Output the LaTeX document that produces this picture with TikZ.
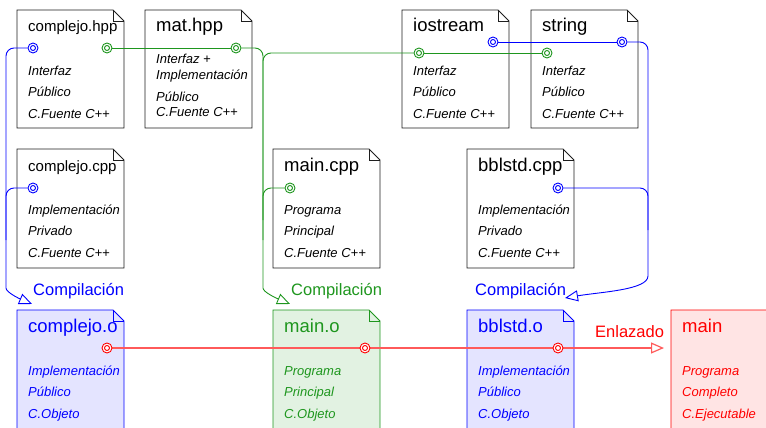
\documentclass[tikz,border=0pt]{standalone}
\usepackage{fontspec}
\setmainfont{Liberation Sans}
\usetikzlibrary{arrows.meta}
\definecolor{mygreen}{RGB}{30,150,30}
\definecolor{myblue}{RGB}{0,0,255}
\definecolor{myred}{RGB}{255,0,0}
\definecolor{redline}{RGB}{255,90,90}
\definecolor{bfill}{RGB}{228,228,255}
\definecolor{gfill}{RGB}{226,242,226}
\definecolor{rfill}{RGB}{255,228,228}
\definecolor{edge}{RGB}{30,30,30}
\pgfdeclarelayer{back}
\pgfdeclarelayer{mid}
\pgfsetlayers{back,mid,main}

\newcommand\docshape[5]{%
  \draw[#5] (#2,#3) coordinate (#1) -- (#2+96,#3) -- (#2+107,#3+11) -- (#2+107,#3+#4) -- (#2,#3+#4) -- cycle;
  \draw[#5,fill=none] (#2+96,#3) -- (#2+96,#3+11) -- (#2+107,#3+11);
}
\newcommand\doctext[9]{%
  \node[doctitle,text=#4,font={\fontsize{#5}{#5}\selectfont}] (#1-t) at (#2+11,#3+22) {#6};
  \node[docbody,text=#4] (#1-a) at (#2+11,#3+65) {#7};
  \node[docbody,text=#4] (#1-b) at (#2+11,#3+86) {#8};
  \node[docbody,text=#4] (#1-c) at (#2+11,#3+108) {#9};
}

\begin{document}
\begin{tikzpicture}[x=1pt,y=-1pt,
  doctitle/.style={anchor=base west,inner sep=0pt},
  docbody/.style={anchor=base west,inner sep=0pt,font={\fontsize{13}{15}\selectfont\itshape}},
  lab/.style={anchor=base west,inner sep=0pt,font={\fontsize{16.5}{18}\selectfont}},
  plainbox/.style={draw=edge,line width=0.9pt,fill=white},
  bluebox/.style={draw=myblue,line width=0.9pt,fill=bfill},
  greenbox/.style={draw=mygreen,line width=0.9pt,fill=gfill},
  redbox/.style={draw=myred,line width=0.9pt,fill=rfill},
  port/.style={circle,draw=#1,fill=white,minimum size=10pt,inner sep=0pt,line width=0.9pt,
    path picture={\draw[#1,line width=0.9pt] (path picture bounding box.center) circle (2.5pt);}},
  bline/.style={draw=myblue,line width=0.9pt,rounded corners=8pt},
  gline/.style={draw=mygreen,line width=0.9pt,rounded corners=8pt},
  rline/.style={draw=redline,line width=1.2pt},
  arr/.style={-{Triangle[open,length=13pt,width=11pt]}}
]
\useasboundingbox (0,0) rectangle (766,428);
\clip (0,0) rectangle (766,428);

\begin{pgfonlayer}{back}
% boxes
\docshape{bchpp}{17}{10}{118}{plainbox}
\docshape{bmat}{145}{10}{118}{plainbox}
\docshape{bio}{402}{10}{118}{plainbox}
\docshape{bstr}{531}{10}{118}{plainbox}
\docshape{bccp}{17}{149}{119}{plainbox}
\docshape{bmcp}{273}{149}{119}{plainbox}
\docshape{bbcp}{467}{149}{119}{plainbox}
\docshape{bco}{17}{310}{140}{bluebox}
\docshape{bmo}{273}{310}{140}{greenbox}
\docshape{bbo}{467}{310}{140}{bluebox}
\docshape{bmain}{671}{310}{140}{redbox}

% texts
\doctext{chpp}{17}{10}{black}{15}{complejo.hpp}{Interfaz}{Público}{C.Fuente C++}
\node[doctitle,font={\fontsize{18.5}{20}\selectfont}] (mat-t) at (156,32) {mat.hpp};
\node[docbody] (mat-a) at (156,64) {Interfaz +};
\node[docbody] (mat-b) at (156,80) {Implementación};
\node[docbody] (mat-c) at (156,102) {Público};
\node[docbody] (mat-d) at (156,117) {C.Fuente C++};
\doctext{io}{402}{10}{black}{18.5}{iostream}{Interfaz}{Público}{C.Fuente C++}
\doctext{str}{531}{10}{black}{18.5}{string}{Interfaz}{Público}{C.Fuente C++}
\doctext{ccp}{17}{149}{black}{15}{complejo.cpp}{Implementación}{Privado}{C.Fuente C++}
\doctext{mcp}{273}{149}{black}{18.5}{main.cpp}{Programa}{Principal}{C.Fuente C++}
\doctext{bcp}{467}{149}{black}{18.5}{bblstd.cpp}{Implementación}{Privado}{C.Fuente C++}
\doctext{co}{17}{310}{myblue}{18.5}{complejo.o}{Implementación}{Público}{C.Objeto}
\doctext{mo}{273}{310}{mygreen}{18.5}{main.o}{Programa}{Principal}{C.Objeto}
\doctext{bo}{467}{310}{myblue}{18.5}{bblstd.o}{Implementación}{Público}{C.Objeto}
\doctext{mn}{671}{310}{myred}{18.5}{main}{Programa}{Completo}{C.Ejecutable}

% labels
\node[lab,text=myblue] (comp1) at (33,295) {Compilación};
\node[lab,text=mygreen] (comp2) at (291,295) {Compilación};
\node[lab,text=myblue] (comp3) at (475,295) {Compilación};
\node[lab,text=myred] (enl) at (595,337) {Enlazado};
\end{pgfonlayer}

% port circles
\node[port=myblue] (pchppb) at (33,48) {};
\node[port=mygreen] (pchppg) at (107,48) {};
\node[port=mygreen] (pmat) at (236,48) {};
\node[port=mygreen] (piog) at (419,53) {};
\node[port=myblue] (piob) at (493,42) {};
\node[port=myblue] (pstrb) at (622,42) {};
\node[port=mygreen] (pstrg) at (547,53) {};
\node[port=myblue] (pccp) at (33,188) {};
\node[port=mygreen] (pmcp) at (290,188) {};
\node[port=myblue] (pbcp) at (558,188) {};
\node[port=myred] (pco) at (107,348) {};
\node[port=myred] (pmo) at (365,348) {};
\node[port=myred] (pbo) at (558,348) {};
\coordinate (t1) at (32,304);
\coordinate (t2) at (290,304);
\coordinate (t3) at (565,298);
\coordinate (tmain) at (664,348);

% connectors
\begin{pgfonlayer}{mid}
\draw[bline,arr] (pchppb) -| (6,280) .. controls (6,292) and (18,298) .. (t1);
\draw[bline] (pccp) -| (6,240);
\draw[gline] (pchppg) -- (pmat);
\draw[gline,arr] (pmat) -| (263,280) .. controls (263,292) and (276,298) .. (t2);
\draw[gline] (pstrg) -- (piog);
\draw[gline] (piog) -| (263,220);
\draw[gline] (pmcp) -| (263,240);
\draw[bline] (piob) -- (pstrb);
\draw[bline,arr] (pstrb) -| (648,268) .. controls (648,290) and (600,292) .. (t3);
\draw[bline] (pbcp) -| (648,230);
\draw[rline] (pco) -- (pmo);
\draw[rline] (pmo) -- (pbo);
\draw[rline,arr] (pbo) -- (tmain);
\end{pgfonlayer}
\end{tikzpicture}
\end{document}
